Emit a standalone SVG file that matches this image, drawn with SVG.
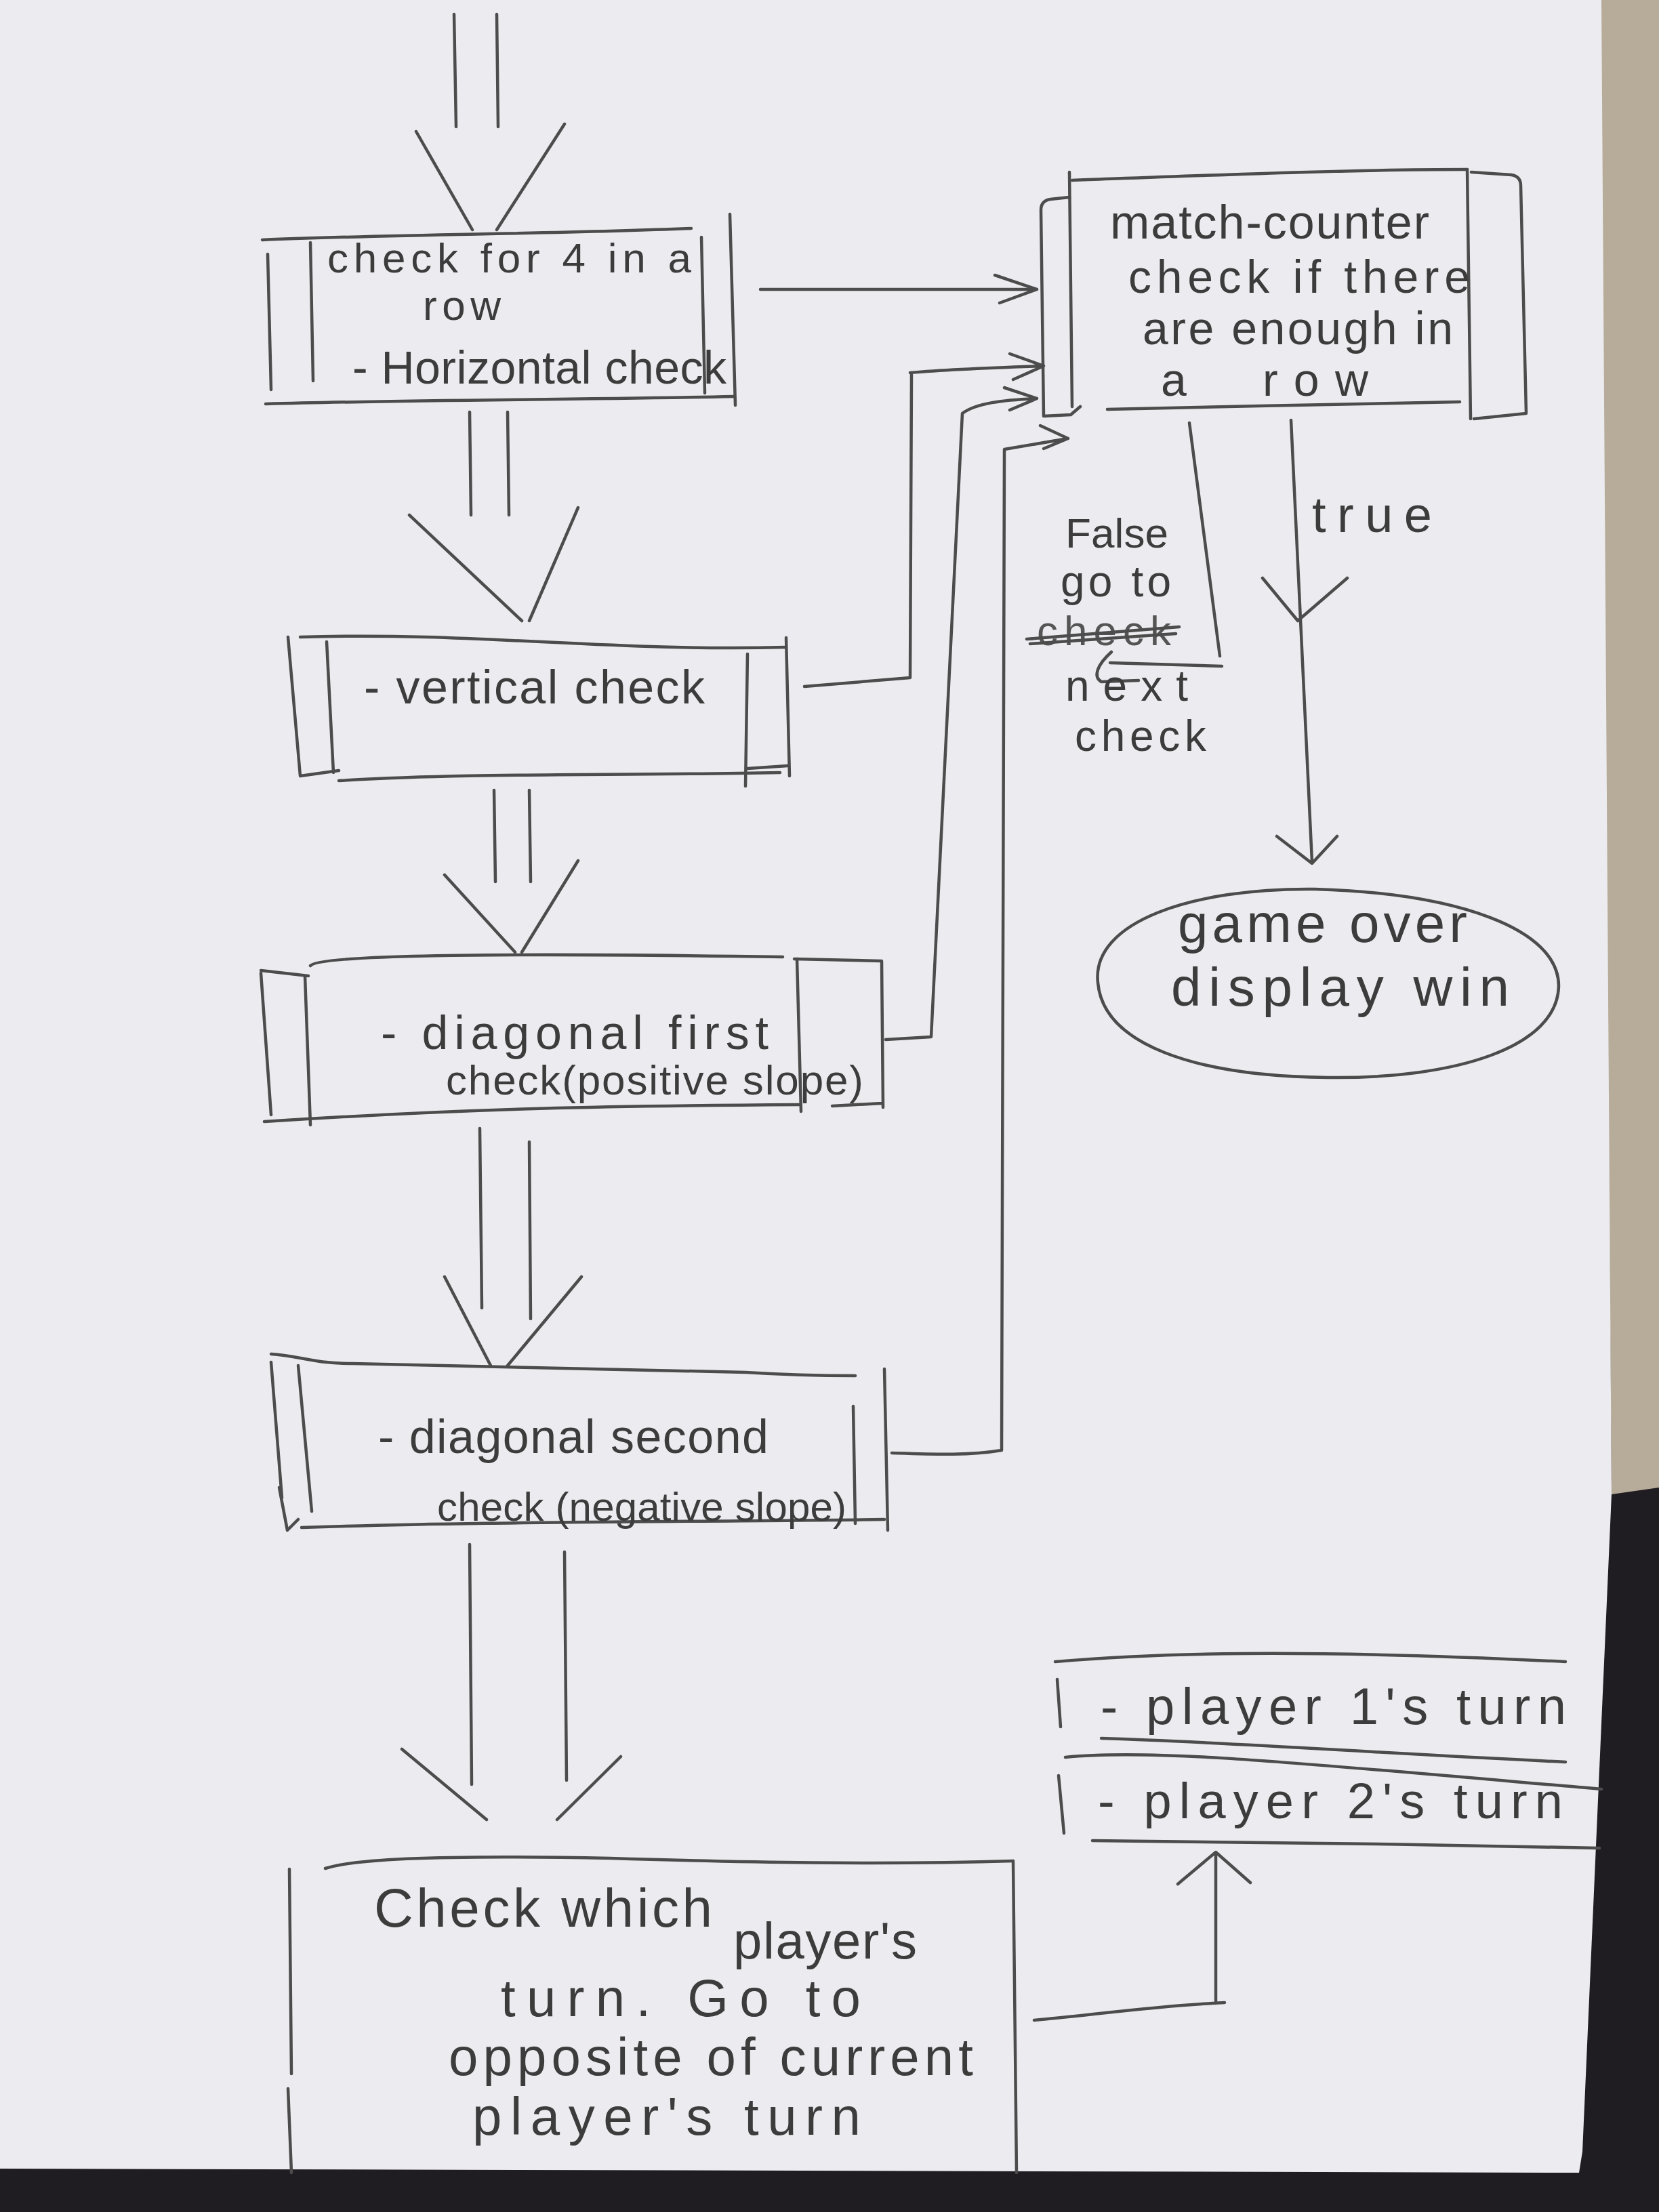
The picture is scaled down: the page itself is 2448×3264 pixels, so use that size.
<svg xmlns="http://www.w3.org/2000/svg" width="2448" height="3264" viewBox="0 0 2448 3264">
<style>
.ln{fill:none;stroke:#4c4c4c;stroke-width:4.5;stroke-linecap:round;stroke-linejoin:round}
.t{font-family:"Liberation Sans","DejaVu Sans",Arial,sans-serif;font-size:68px;fill:#3c3c3c}
</style>
<g id="background">
<rect x="0" y="0" width="2448" height="3264" fill="#1f1d21"/>
<polygon points="2360,0 2448,0 2448,2195 2378,2205" fill="#b6ac99"/>
<polygon points="0,0 2363,0 2378,2205 2335,3175 2330,3206 0,3200" fill="#ecebef"/>
</g>

<g id="node-horizontal">
<path class="ln" d="M387,354 C600,345 800,346 1020,337"/>
<path class="ln" d="M395,375 L400,575"/>
<path class="ln" d="M458,358 L462,562"/>
<path class="ln" d="M1035,350 L1040,580"/>
<path class="ln" d="M1077,316 L1085,598"/>
<path class="ln" d="M392,596 C600,590 850,590 1083,585"/>
<text class="t" x="483" y="402" textLength="537" style="font-size:62px">check for 4 in a</text>
<text class="t" x="624" y="472" textLength="115" style="font-size:62px">row</text>
<text class="t" x="520" y="566" textLength="552">- Horizontal check</text>
</g>

<g id="node-vertical">
<path class="ln" d="M443,940 C700,932 900,962 1160,955"/>
<path class="ln" d="M425,940 L443,1145 L500,1137"/>
<path class="ln" d="M482,947 L492,1140"/>
<path class="ln" d="M1103,965 L1100,1160"/>
<path class="ln" d="M1160,941 L1165,1145 M1103,1134 L1162,1130"/>
<path class="ln" d="M500,1152 C700,1140 900,1145 1151,1140"/>
<text class="t" x="537" y="1038" textLength="503" style="font-size:70px">- vertical check</text>
</g>

<g id="node-diagonal-first">
<path class="ln" d="M458,1425 C470,1410 700,1405 1155,1412"/>
<path class="ln" d="M385,1432 L455,1440"/>
<path class="ln" d="M385,1436 L400,1645"/>
<path class="ln" d="M450,1440 L458,1660"/>
<path class="ln" d="M390,1655 C700,1635 900,1632 1180,1630"/>
<path class="ln" d="M1172,1415 L1301,1418 L1303,1634 M1228,1632 L1301,1628"/>
<path class="ln" d="M1176,1415 L1182,1640"/>
<text class="t" x="562" y="1548" textLength="572" style="font-size:70px">- diagonal first</text>
<text class="t" x="658" y="1615" textLength="616" style="font-size:62px">check(positive slope)</text>
</g>

<g id="node-diagonal-second">
<path class="ln" d="M400,1998 C440,2000 460,2012 520,2012 C700,2015 900,2020 1100,2025 C1180,2030 1240,2030 1262,2030"/>
<path class="ln" d="M400,2010 L416,2210 M412,2195 L424,2258 L440,2242"/>
<path class="ln" d="M440,2015 L460,2230"/>
<path class="ln" d="M1259,2075 L1262,2248"/>
<path class="ln" d="M1305,2020 L1310,2258"/>
<path class="ln" d="M445,2254 C700,2245 1000,2246 1305,2242"/>
<text class="t" x="558" y="2144" textLength="576" style="font-size:70px">- diagonal second</text>
<text class="t" x="645" y="2244" textLength="604" style="font-size:60px">check (negative slope)</text>
</g>

<g id="node-switch-turn">
<path class="ln" d="M480,2757 C530,2740 700,2738 900,2742 C1100,2748 1300,2752 1495,2746"/>
<path class="ln" d="M427,2758 L430,3060 M425,3082 L430,3206"/>
<path class="ln" d="M1495,2746 L1500,3206"/>
<text class="t" x="552" y="2843" textLength="499" style="font-size:80px">Check which</text>
<text class="t" x="1082" y="2890" textLength="271" style="font-size:76px">player's</text>
<text class="t" x="739" y="2975" textLength="531" style="font-size:78px">turn. Go to</text>
<text class="t" x="662" y="3062" textLength="774" style="font-size:78px">opposite of current</text>
<text class="t" x="697" y="3150" textLength="573" style="font-size:78px">player's turn</text>
</g>

<g id="node-player1">
<path class="ln" d="M1557,2452 C1700,2440 1900,2432 2310,2452"/>
<path class="ln" d="M1560,2478 L1565,2548"/>
<path class="ln" d="M1625,2565 C1800,2570 2000,2585 2310,2600"/>
<text class="t" x="1624" y="2544" textLength="687" style="font-size:76px">- player 1's turn</text>
</g>

<g id="node-player2">
<path class="ln" d="M1572,2593 C1700,2580 1900,2600 2363,2640"/>
<path class="ln" d="M1562,2620 L1570,2705"/>
<path class="ln" d="M1612,2716 C1900,2718 2100,2722 2360,2727"/>
<text class="t" x="1620" y="2683" textLength="686" style="font-size:74px">- player 2's turn</text>
</g>

<g id="node-match-counter">
<path class="ln" d="M1578,291 L1550,294 Q1536,296 1536,310 L1540,614 L1580,612 L1594,600"/>
<path class="ln" d="M1578,254 L1582,600"/>
<path class="ln" d="M1582,266 C1800,258 2000,250 2165,250"/>
<path class="ln" d="M2165,250 L2170,618"/>
<path class="ln" d="M2171,254 L2230,258 Q2244,260 2244,274 L2252,610 L2175,618"/>
<path class="ln" d="M1634,604 C1800,600 2000,596 2154,593"/>
<text class="t" x="1638" y="352" textLength="471" style="font-size:70px">match-counter</text>
<text class="t" x="1665" y="432" textLength="504">check if there</text>
<text class="t" x="1686" y="508" textLength="458">are enough in</text>
<text class="t" x="1713" y="584">a</text>
<text class="t" x="1863" y="584" textLength="156">row</text>
</g>

<g id="node-game-over">
<path class="ln" d="M1620,1450 C1610,1360 1760,1310 1940,1312 C2150,1318 2300,1370 2300,1455 C2298,1545 2150,1592 1960,1590 C1760,1588 1628,1540 1620,1450 Z"/>
<text class="t" x="1738" y="1390" textLength="427" style="font-size:80px">game over</text>
<text class="t" x="1728" y="1484" textLength="499" style="font-size:80px">display win</text>
</g>

<g id="connectors">
<path class="ln" d="M670,21 L673,187 M733,21 L735,187"/>
<path class="ln" d="M614,194 L697,339 M833,183 L733,339"/>
<path class="ln" d="M1122,427 L1530,427 M1468,406 L1530,427 L1475,447"/>
<path class="ln" d="M693,608 L695,760 M749,608 L751,760"/>
<path class="ln" d="M604,760 L770,916 M853,749 L781,916"/>
<path class="ln" d="M1187,1013 L1343,1000 L1345,553 M1343,550 C1400,545 1480,542 1540,540 M1490,522 L1540,540 L1495,560"/>
<path class="ln" d="M729,1166 L731,1301 M781,1166 L783,1301"/>
<path class="ln" d="M656,1291 L760,1405 M853,1270 L770,1405"/>
<path class="ln" d="M1307,1534 L1374,1530 L1420,610 C1440,595 1480,590 1530,588 M1482,572 L1530,588 L1490,605"/>
<path class="ln" d="M708,1665 L711,1930 M781,1685 L783,1946"/>
<path class="ln" d="M656,1884 L724,2015 M858,1884 L749,2015"/>
<path class="ln" d="M1316,2144 C1380,2146 1430,2148 1478,2140 L1482,663 L1576,647 M1535,628 L1576,647 L1540,662"/>
<path class="ln" d="M693,2279 L696,2633 M833,2290 L836,2627"/>
<path class="ln" d="M593,2581 L718,2685 M916,2592 L822,2685"/>
<path class="ln" d="M1526,2981 C1600,2975 1700,2960 1807,2955 M1794,2956 L1794,2737 M1738,2780 L1794,2733 L1845,2778"/>
<path class="ln" d="M1755,624 L1800,968 M1638,978 L1803,983"/>
<path class="ln" d="M1905,620 L1936,1272 M1863,853 L1915,916 L1988,853 M1884,1234 L1936,1274 L1973,1234"/>
</g>

<g id="label-false">
<text class="t" x="1572" y="808" textLength="152" style="font-size:62px">False</text>
<text class="t" x="1565" y="880" textLength="163" style="font-size:64px">go to</text>
<text class="t" x="1530" y="952" textLength="198" style="font-size:62px;fill:#555">check</text>
<path class="ln" d="M1515,943 L1740,925 M1520,950 L1735,935" stroke="#2a2a2a"/>
<path class="ln" d="M1640,962 C1620,980 1612,998 1625,1006 L1680,1004"/>
<text class="t" x="1572" y="1034" textLength="181" style="font-size:64px">next</text>
<text class="t" x="1586" y="1108" textLength="194" style="font-size:64px">check</text>
</g>

<g id="label-true">
<text class="t" x="1936" y="785" textLength="177" style="font-size:74px">true</text>
</g>
</svg>
